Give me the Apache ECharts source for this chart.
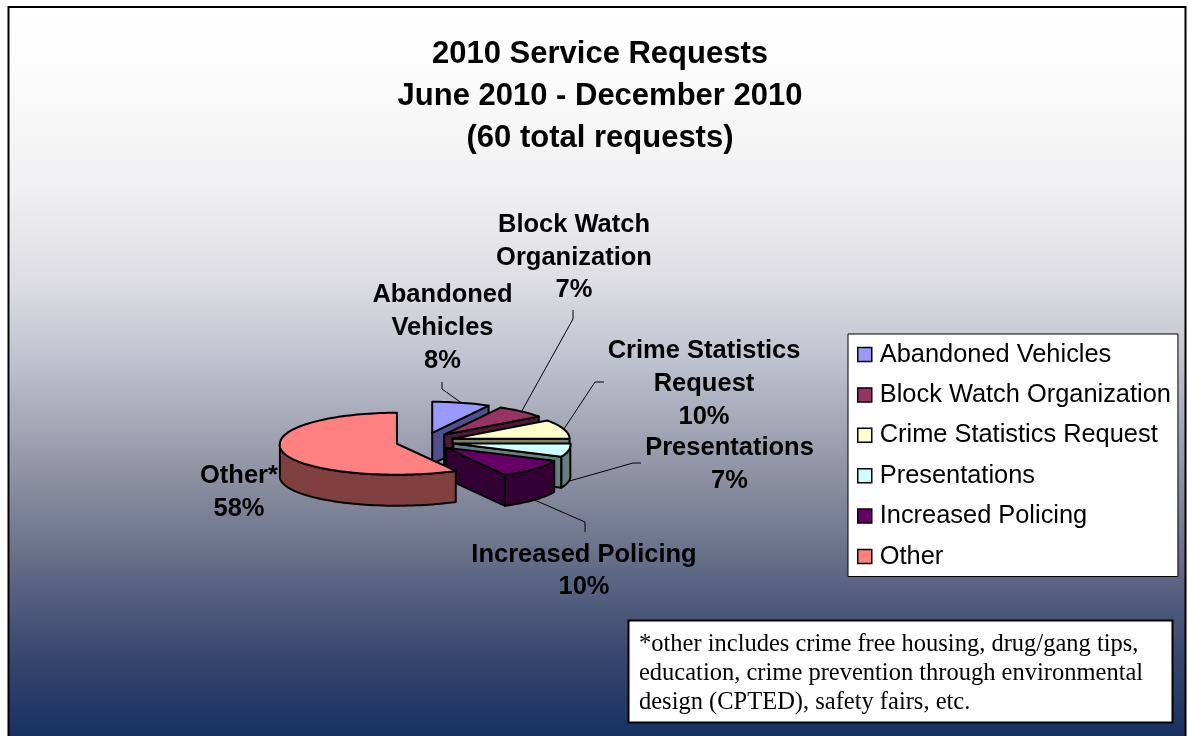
<!DOCTYPE html>
<html>
<head>
<meta charset="utf-8">
<title>2010 Service Requests</title>
<style>html,body{margin:0;padding:0;background:#fff}#chart{width:1188px;height:736px}</style>
<script src="https://cdn.jsdelivr.net/npm/echarts@6/dist/echarts.min.js"></script>
</head>
<body>
<div id="chart"></div>
<script>
// Share of service requests, in percent
const categories = ['Abandoned Vehicles', 'Block Watch Organization', 'Crime Statistics Request', 'Presentations', 'Increased Policing', 'Other'];
const shares = [8, 7, 10, 7, 10, 58];
const labelNames = [['Abandoned', 'Vehicles'], ['Block Watch', 'Organization'], ['Crime Statistics', 'Request'], ['Presentations'], ['Increased Policing'], ['Other*']];
const topColors = ['#9999ff', '#993366', '#ffffcc', '#ccffff', '#660066', '#ff8080'];
const sideColors = ['#50508c', '#4d1a33', '#808066', '#668080', '#330033', '#804040'];
const titleLines = ['2010 Service Requests', 'June 2010 - December 2010', '(60 total requests)'];
const noteLines = ['*other includes crime free housing, drug/gang tips,', 'education, crime prevention through environmental', 'design (CPTED), safety fairs, etc.'];

// Layout of the tilted pie; nearStretch widens the rim towards the viewer
const pie = { cx: 425, cy: 441.5, rx: 117, ry: 31, depth: 31, explodeX: 29, explodeY: 9, nearStretch: 0.05 };
// Label block: centre x, first line middle y, line pitch
const labelBoxes = [[442.5, 295, 33], [574, 225, 32.5], [704, 351, 33], [729.5, 448, 33], [584, 555, 32], [239, 476, 33]];
// Leader line elbows, walking from the label towards the slice
const leaderElbows = [
  [[442, 382], [442, 389]],
  [[573, 310], [573, 319]],
  [[604, 382], [595, 382]],
  [[641, 463], [633, 463]],
  [[585, 532], [585, 522]]
];

const total = shares.reduce((a, b) => a + b, 0);
const toDeg = v => v / total * 360;

function sliceAngles(i) {
  const before = shares.slice(0, i).reduce((a, b) => a + b, 0);
  return [toDeg(before), toDeg(before + shares[i])];
}
function rim(o, deg, drop) {
  const t = deg * Math.PI / 180;
  const stretch = 1 + pie.nearStretch * Math.max(0, -Math.cos(t));
  return [o[0] + pie.rx * stretch * Math.sin(t), o[1] - pie.ry * Math.cos(t) + (drop || 0)];
}
function arc(o, a, b, drop) {
  const pts = [];
  const n = Math.max(2, Math.ceil((b - a) / 2));
  for (let k = 0; k <= n; k++) pts.push(rim(o, a + (b - a) * k / n, drop));
  return pts;
}
function renderSlice(params, api) {
  const i = params.seriesIndex;
  const [a, b] = sliceAngles(i);
  const mid = (a + b) / 2 * Math.PI / 180;
  const o = [pie.cx + pie.explodeX * Math.sin(mid), pie.cy - pie.explodeY * Math.cos(mid)];
  const edge = { stroke: '#000', lineWidth: 2, lineJoin: 'round' };
  const children = [];
  const face = (pts, fill) => children.push({ type: 'polygon', shape: { points: pts }, style: Object.assign({ fill }, edge) });

  // End wall of the wedge faces the viewer for every slice on the right half
  if (b < 180) {
    const p = rim(o, b);
    face([o, p, [p[0], p[1] + pie.depth], [o[0], o[1] + pie.depth]], sideColors[i]);
  }
  // Outer wall, only along the near half of the rim
  const w0 = Math.max(a, 90), w1 = Math.min(b, 270);
  if (w1 > w0) {
    face(arc(o, w0, w1).concat(arc(o, w0, w1, pie.depth).reverse()), sideColors[i]);
  }
  face([o].concat(arc(o, a, b)), topColors[i]);

  // Leader line
  if (leaderElbows[i]) {
    const midDeg = (a + b) / 2;
    const anchor = rim(o, midDeg, midDeg > 90 ? pie.depth : 0);
    children.push({ type: 'polyline', shape: { points: leaderElbows[i].concat([anchor]) }, style: { stroke: '#000', lineWidth: 1, fill: null } });
  }
  // Data label
  const [lx, ly, pitch] = labelBoxes[i];
  labelNames[i].concat([api.value(0) + '%']).forEach((line, k) => {
    children.push({
      type: 'text',
      style: { text: line, x: lx, y: ly + k * pitch, align: 'center', verticalAlign: 'middle', fill: '#000',
               font: 'bold 25.5px "Liberation Sans", Arial, sans-serif' }
    });
  });
  return { type: 'group', children };
}

const chart = echarts.init(document.getElementById('chart'), null, { renderer: 'canvas' });
chart.setOption({
  animation: false,
  backgroundColor: '#fff',
  title: {
    text: titleLines.join('\n'),
    left: 595, top: 28, textAlign: 'center',
    textStyle: { fontFamily: '"Liberation Sans", Arial, sans-serif', fontWeight: 'bold', fontSize: 31, lineHeight: 42, color: '#000' }
  },
  legend: {
    data: categories,
    orient: 'vertical',
    left: 848, top: 334,
    backgroundColor: '#fff', borderColor: '#000', borderWidth: 1, borderRadius: 0,
    padding: [8, 7, 7.5, 9],
    icon: 'rect',
    itemWidth: 14, itemHeight: 14, itemGap: 15.4,
    selectedMode: false,
    itemStyle: { borderColor: '#000', borderWidth: 1.5 },
    textStyle: { fontFamily: '"Liberation Sans", Arial, sans-serif', fontSize: 25.4, color: '#000', padding: [0, 0, 0, 3] }
  },
  graphic: [
    { type: 'rect', z: -10, shape: { x: 8.5, y: 7, width: 1177, height: 738 },
      style: { stroke: '#000', lineWidth: 2,
        fill: new echarts.graphic.LinearGradient(0, 0, 0, 1, [
          { offset: 0, color: '#ffffff' }, { offset: 0.07, color: '#fdfdfd' }, { offset: 0.245, color: '#f0f0f2' },
          { offset: 0.371, color: '#dedee2' }, { offset: 0.474, color: '#c0c4d0' }, { offset: 0.626, color: '#9194a5' },
          { offset: 0.753, color: '#646c87' }, { offset: 0.881, color: '#37466e' }, { offset: 1, color: '#122f60' }
        ]) } },
    { type: 'rect', z: 5, shape: { x: 628.5, y: 620.5, width: 544, height: 102 }, style: { fill: '#fff', stroke: '#000', lineWidth: 2 } },
    { type: 'text', z: 6, style: { text: noteLines.join('\n'), x: 639, y: 630, fill: '#000', lineHeight: 29,
        font: '24.5px "Liberation Serif", "Times New Roman", serif' } }
  ],
  series: categories.map((name, i) => ({
    type: 'custom',
    name,
    coordinateSystem: 'none',
    itemStyle: { color: topColors[i] },
    renderItem: renderSlice,
    data: [{ name, value: [shares[i]] }]
  }))
});
</script>
</body>
</html>
